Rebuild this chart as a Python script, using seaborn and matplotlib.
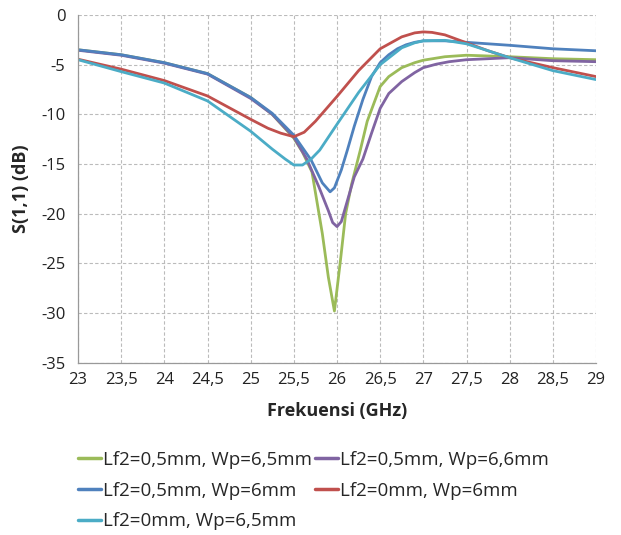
import numpy as np
import pandas as pd
import matplotlib
matplotlib.use("Agg")
import matplotlib.pyplot as plt
import seaborn as sns

# ---- data ----
labels = ["Lf2=0,5mm, Wp=6,5mm", "Lf2=0,5mm, Wp=6,6mm", "Lf2=0,5mm, Wp=6mm",
          "Lf2=0mm, Wp=6mm", "Lf2=0mm, Wp=6,5mm"]
colors = ["#9BBB59", "#8064A2", "#4F81BD", "#C0504D", "#4BACC6"]

green_x = [23, 23.5, 24, 24.5, 25, 25.25, 25.5, 25.6, 25.71, 25.83, 25.9, 25.97, 26.04, 26.1,
           26.17, 26.27, 26.35, 26.5, 26.6, 26.75, 26.9, 27, 27.25, 27.5, 28, 28.5, 29]
green_y = [-3.5, -4.0, -4.8, -5.9, -8.3, -10.0, -12.4, -13.8, -15.8, -22.0, -26.4, -29.8, -24.7, -20.0,
           -17.0, -13.6, -10.7, -7.2, -6.2, -5.3, -4.8, -4.55, -4.2, -4.05, -4.2, -4.4, -4.5]

purple_x = [23, 23.5, 24, 24.5, 25, 25.25, 25.5, 25.65, 25.79, 25.9, 25.95, 26.0, 26.05, 26.1,
            26.2, 26.3, 26.4, 26.5, 26.6, 26.75, 26.9, 27, 27.15, 27.3, 27.5, 28, 28.5, 29]
purple_y = [-3.55, -4.05, -4.85, -5.95, -8.4, -10.0, -12.3, -14.5, -17.3, -19.7, -20.9, -21.3, -20.8, -19.3,
            -16.3, -14.5, -11.9, -9.4, -7.9, -6.7, -5.8, -5.3, -4.95, -4.7, -4.5, -4.3, -4.6, -4.7]

blue_x = [23, 23.5, 24, 24.5, 25, 25.25, 25.5, 25.7, 25.83, 25.92, 25.97, 26.05, 26.12, 26.2,
          26.3, 26.4, 26.5, 26.6, 26.7, 26.8, 26.9, 27.0, 27.25, 27.5, 27.75, 28, 28.5, 29]
blue_y = [-3.5, -4.0, -4.8, -5.9, -8.3, -9.9, -12.1, -14.6, -16.9, -17.8, -17.4, -15.6, -13.6, -11.2,
          -8.5, -6.2, -4.8, -4.0, -3.4, -3.0, -2.75, -2.6, -2.6, -2.75, -2.9, -3.05, -3.4, -3.6]

red_x = [23, 23.5, 24, 24.5, 25, 25.2, 25.35, 25.5, 25.62, 25.75, 26, 26.25, 26.5, 26.75,
         26.9, 27, 27.1, 27.25, 27.5, 27.75, 28, 28.5, 29]
red_y = [-4.45, -5.45, -6.6, -8.15, -10.5, -11.4, -11.9, -12.25, -11.8, -10.7, -8.2, -5.6, -3.4, -2.2,
         -1.8, -1.7, -1.75, -2.0, -2.8, -3.6, -4.3, -5.3, -6.2]

cyan_x = [23, 23.5, 24, 24.5, 25, 25.25, 25.4, 25.5, 25.6, 25.7, 25.8, 26, 26.25, 26.5, 26.75,
          26.9, 27, 27.25, 27.5, 28, 28.5, 29]
cyan_y = [-4.5, -5.7, -6.85, -8.65, -11.7, -13.5, -14.5, -15.1, -15.1, -14.5, -13.6, -11.0, -7.8, -5.0, -3.3,
          -2.8, -2.6, -2.55, -2.9, -4.3, -5.6, -6.5]

x_ticks = [23, 23.5, 24, 24.5, 25, 25.5, 26, 26.5, 27, 27.5, 28, 28.5, 29]
y_ticks = [0, -5, -10, -15, -20, -25, -30, -35]

series_x = [green_x, purple_x, blue_x, red_x, cyan_x]
series_y = [green_y, purple_y, blue_y, red_y, cyan_y]

frames = []
for lab, xs, ys in zip(labels, series_x, series_y):
    frames.append(pd.DataFrame({"freq": xs, "s11": ys, "series": lab}))
df = pd.concat(frames, ignore_index=True)

# ---- figure ----
sns.set_style("white")
plt.rcParams["font.family"] = ["Open Sans", "DejaVu Sans"]

fig = plt.figure(figsize=(6.21, 5.35), dpi=100)
ax = fig.add_axes([78 / 621, 1 - 362.7 / 535, (596 - 78) / 621, (362.7 - 15) / 535])

sns.lineplot(data=df, x="freq", y="s11", hue="series", hue_order=labels,
             palette=colors, linewidth=2.0, sort=False, estimator=None,
             legend=False, ax=ax)
for ln in ax.lines:
    ln.set_solid_joinstyle("round")
    ln.set_solid_capstyle("round")

ax.set_xlim(23, 29)
ax.set_ylim(-35, 0)
ax.set_xticks(x_ticks)
ax.set_xticklabels([str(t).replace(".", ",") if t != int(t) else str(int(t)) for t in x_ticks])
ax.set_yticks(y_ticks)
ax.set_yticklabels([str(t) for t in y_ticks])
ax.tick_params(axis="both", labelsize=12, colors="#222222", length=0, pad=7)
ax.tick_params(axis="y", length=4, width=0.8, color="#999999", direction="out", pad=5)

ax.grid(True, linestyle=(0, (3, 2)), color="#bbbbbb", linewidth=0.8)
for side in ["top", "right"]:
    ax.spines[side].set_visible(False)
for side in ["left", "bottom"]:
    ax.spines[side].set_color("#999999")
    ax.spines[side].set_linewidth(0.9)

ax.set_xlabel("Frekuensi (GHz)", fontsize=13, fontweight="bold", labelpad=10)
ax.set_ylabel("S(1,1) (dB)", fontsize=13, fontweight="bold", labelpad=8)

# legend (row-major order as in the reference)
handles = {lab: plt.Line2D([], [], color=c, linewidth=2.5) for lab, c in zip(labels, colors)}
order = [labels[0], labels[2], labels[4], labels[1], labels[3]]
fig.legend([handles[l] for l in order], order, loc="upper left",
           bbox_to_anchor=(78 / 621, 1 - 451 / 535), ncol=2, frameon=False,
           fontsize=13.5, handlelength=1.2, handletextpad=0.15, columnspacing=0.15,
           labelspacing=0.68, borderpad=0, borderaxespad=0)

fig.savefig("out.png", dpi=100)
